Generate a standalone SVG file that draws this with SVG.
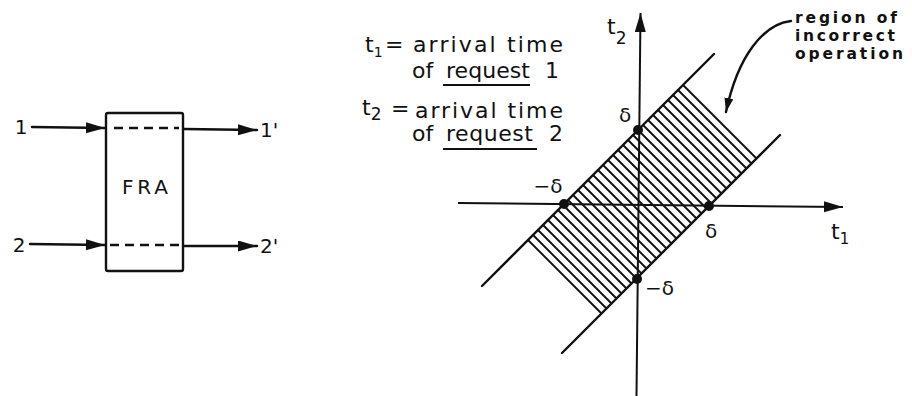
<svg xmlns="http://www.w3.org/2000/svg" width="912" height="396" viewBox="0 0 912 396">
<style>
  text { font-family: "DejaVu Sans", "Liberation Sans", sans-serif; fill: #111; }
  .lbl { font-size: 20px; }
  .leg { font-size: 22px; }
  .ann { font-size: 15.5px; font-weight: bold; }
  .ln { stroke: #111; stroke-width: 2.4; fill: none; stroke-linecap: round; }
  .ax { stroke: #111; stroke-width: 2; fill: none; }
  .hatch { stroke: #111; stroke-width: 1.9; fill: none; }
  .dash { stroke: #111; stroke-width: 2.4; stroke-dasharray: 9 6; fill: none; }
  .dot { fill: #111; }
  .ul { stroke: #111; stroke-width: 2; }
</style>
<defs>
  <marker id="ah" markerUnits="userSpaceOnUse" markerWidth="20" markerHeight="12" refX="19" refY="5.5" orient="auto">
    <path d="M0,0 L19,5.5 L0,11 z" fill="#111"/>
  </marker>
  <marker id="ahs" markerUnits="userSpaceOnUse" markerWidth="16" markerHeight="10" refX="14" refY="4.5" orient="auto">
    <path d="M0,0 L14,4.5 L0,9 z" fill="#111"/>
  </marker>
</defs>

<!-- left block diagram -->
<g id="fra">
  <rect x="106" y="113" width="77" height="158" rx="2" class="ln"/>
  <line x1="114" y1="128" x2="179" y2="128" class="dash"/>
  <line x1="110" y1="245" x2="179" y2="245" class="dash"/>
  <text x="145" y="194" class="lbl" text-anchor="middle" textLength="46" lengthAdjust="spacing">FRA</text>
</g>
<g id="in1"><text x="21" y="134" class="lbl" text-anchor="middle">1</text></g>
<g id="in2"><text x="19" y="252" class="lbl" text-anchor="middle">2</text></g>
<g id="out1"><text x="260" y="137" class="lbl">1'</text></g>
<g id="out2"><text x="260" y="253" class="lbl">2'</text></g>

<g id="connectors">
  <line x1="32" y1="127" x2="105" y2="128" class="ln" marker-end="url(#ah)"/>
  <line x1="30" y1="244" x2="105" y2="245" class="ln" marker-end="url(#ah)"/>
  <line x1="184" y1="129" x2="257" y2="130" class="ln" marker-end="url(#ah)"/>
  <line x1="184" y1="246" x2="257" y2="246" class="ln" marker-end="url(#ah)"/>
</g>

<!-- legend -->
<g id="legend">
  <text x="365" y="52" class="leg">t<tspan font-size="14" dy="5">1</tspan></text>
  <text x="385" y="52" class="leg" font-size="17">=</text>
  <text x="413" y="52" class="leg" textLength="150" lengthAdjust="spacing">arrival time</text>
  <text x="412" y="78" class="leg">of</text>
  <text x="446" y="78" class="leg" textLength="84" lengthAdjust="spacing">request</text>
  <text x="545" y="78" class="leg">1</text>
  <line x1="443" y1="85" x2="530" y2="85" class="ul"/>

  <text x="362" y="115" class="leg">t<tspan font-size="17" dy="5">2</tspan></text>
  <text x="391" y="116" class="leg" font-size="17">=</text>
  <text x="415" y="118" class="leg" textLength="148" lengthAdjust="spacing">arrival time</text>
  <text x="412" y="141" class="leg">of</text>
  <text x="446" y="141" class="leg" textLength="87" lengthAdjust="spacing">request</text>
  <text x="549" y="141" class="leg">2</text>
  <line x1="443" y1="149" x2="537" y2="149" class="ul"/>
</g>

<!-- graph -->
<g id="graph">
  <path class="hatch" d="M528 240l73.5 73.5m-68.5-78.5l73.5 73.5m-68.5-78.5l73.5 73.5m-68.5-78.5l73.5 73.5m-68.5-78.5l73.5 73.5m-68.5-78.5l73.5 73.5m-68.5-78.5l73.5 73.5m-68.5-78.5l73.5 73.5m-68.5-78.5l73.5 73.5m-68.5-78.5l73.5 73.5m-68.5-78.5l73.5 73.5m-68.5-78.5l73.5 73.5m-68.5-78.5l73.5 73.5m-68.5-78.5l73.5 73.5m-68.5-78.5l73.5 73.5m-68.5-78.5l73.5 73.5m-68.5-78.5l73.5 73.5m-68.5-78.5l73.5 73.5m-68.5-78.5l73.5 73.5m-68.5-78.5l73.5 73.5m-68.5-78.5l73.5 73.5m-68.5-78.5l73.5 73.5m-68.5-78.5l73.5 73.5m-68.5-78.5l73.5 73.5m-68.5-78.5l73.5 73.5m-68.5-78.5l73.5 73.5m-68.5-78.5l73.5 73.5m-68.5-78.5l73.5 73.5m-68.5-78.5l73.5 73.5m-68.5-78.5l73.5 73.5m-68.5-78.5l73.5 73.5m-68.5-78.5l73.5 73.5"/>
  <line x1="482" y1="286" x2="714" y2="54" class="ln"/>
  <line x1="562" y1="353" x2="780" y2="135" class="ln"/>
  <line x1="636.5" y1="396" x2="640.5" y2="13" class="ax" marker-end="url(#ah)"/>
  <line x1="458" y1="203" x2="843" y2="207" class="ax" marker-end="url(#ah)"/>
  <circle cx="638" cy="130" r="5" class="dot"/>
  <circle cx="564" cy="204" r="5" class="dot"/>
  <circle cx="709" cy="206" r="5" class="dot"/>
  <circle cx="637" cy="279" r="5" class="dot"/>
  <text x="625" y="122" class="lbl" text-anchor="middle">δ</text>
  <text x="548" y="193" class="lbl" text-anchor="middle">−δ</text>
  <text x="711" y="238" class="lbl" text-anchor="middle">δ</text>
  <text x="645" y="295" class="lbl">−δ</text>
  <text x="831" y="239" class="leg" font-size="20">t<tspan font-size="15" dy="5">1</tspan></text>
  <text x="607" y="34" class="leg" font-size="20">t<tspan font-size="17" dy="10">2</tspan></text>
</g>

<!-- annotation -->
<g id="annotation">
  <text x="795" y="23" class="ann" textLength="102" lengthAdjust="spacing">region of</text>
  <text x="795" y="41" class="ann" textLength="100" lengthAdjust="spacing">incorrect</text>
  <text x="795" y="59" class="ann" textLength="108" lengthAdjust="spacing">operation</text>
  <path d="M791 21 C764 24, 738 55, 726 112" class="ln" marker-end="url(#ahs)"/>
</g>
</svg>
